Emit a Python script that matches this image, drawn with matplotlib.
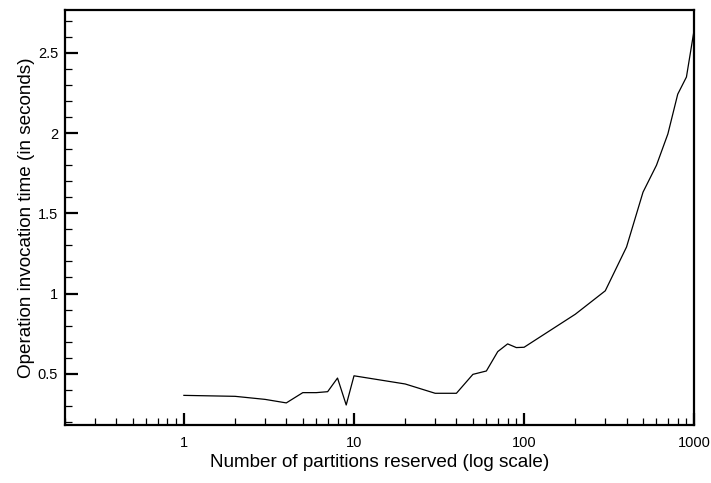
import numpy as np
import matplotlib
matplotlib.use("Agg")
import matplotlib.pyplot as plt
from matplotlib.ticker import LogLocator, FixedLocator, MultipleLocator

plt.rcParams["font.family"] = ["Liberation Sans", "DejaVu Sans"]

# partitions reserved vs invocation time (s)
partitions = [1, 2, 3, 4, 5, 6, 7, 8, 9, 10, 20, 30, 40, 50, 60, 70, 80, 90,
              100, 200, 300, 400, 500, 600, 700, 800, 900, 1000]
times = [0.365, 0.359, 0.34, 0.318, 0.382, 0.382, 0.388, 0.473, 0.305, 0.487,
         0.436, 0.378, 0.378, 0.496, 0.517, 0.638, 0.686, 0.663,
         0.665, 0.871, 1.017, 1.29, 1.632, 1.80, 1.995, 2.243, 2.35, 2.647]
xticks = [1, 10, 100, 1000]
xticklabels = ["1", "10", "100", "1000"]
yticks = [0.5, 1, 1.5, 2, 2.5]
yticklabels = ["0.5", "1", "1.5", "2", "2.5"]

fig = plt.figure(figsize=(7.11, 4.83), dpi=100)
ax = fig.add_axes([0.0914, 0.12, 0.885, 0.86])

ax.plot(partitions, times, color="black", lw=0.9)

ax.set_xscale("log")
ax.set_xlim(0.2, 1000)
ax.set_ylim(0.18, 2.77)

ax.xaxis.set_major_locator(FixedLocator(xticks))
ax.set_xticklabels(xticklabels)
ax.xaxis.set_minor_locator(LogLocator(base=10, subs=np.arange(2, 10)))
ax.xaxis.set_minor_formatter(matplotlib.ticker.NullFormatter())
ax.set_yticks(yticks)
ax.set_yticklabels(yticklabels)
ax.yaxis.set_minor_locator(MultipleLocator(0.1))

ax.tick_params(which="major", direction="in", length=9, width=1.6,
               labelsize=10.5, top=False, right=False)
ax.tick_params(which="minor", direction="in", length=5, width=0.9,
               top=False, right=False)
ax.tick_params(axis="x", which="major", pad=8)
ax.tick_params(axis="y", which="major", pad=5)

for s in ax.spines.values():
    s.set_linewidth(1.6)

ax.set_xlabel("Number of partitions reserved (log scale)", fontsize=13.6, labelpad=3)
ax.set_ylabel("Operation invocation time (in seconds)", fontsize=13.6, labelpad=2)

fig.savefig("out.png", dpi=100)
